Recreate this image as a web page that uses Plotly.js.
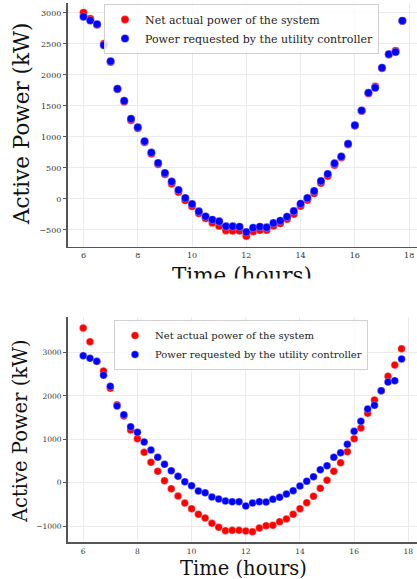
<!DOCTYPE html>
<html>
<head>
<meta charset="utf-8">
<script src="https://cdn.plot.ly/plotly-3.0.1.min.js"></script>
<style>html,body{margin:0;padding:0;background:#fff;}#chart{width:417px;height:579px;}</style>
</head>
<body>
<div id="chart"></div>
<script>
const timeHours = [6,6.25,6.5,6.75,7,7.25,7.5,7.75,8,8.25,8.5,8.75,9,9.25,9.5,9.75,10,10.25,10.5,10.75,11,11.25,11.5,11.75,12,12.25,12.5,12.75,13,13.25,13.5,13.75,14,14.25,14.5,14.75,15,15.25,15.5,15.75,16,16.25,16.5,16.75,17,17.25,17.5,17.75];

const topNet = [3005,2908,2810,2504,2210,1770,1570,1270,1140,915,728,560,398,247,113,-22,-118,-232,-313,-383,-436,-507,-512,-512,-598,-523,-501,-501,-431,-393,-324,-243,-113,-16,91,258,371,549,670,880,1180,1420,1700,1814,2110,2330,2391,2870];
const topReq = [2940,2880,2820,2481,2223,1777,1583,1292,1157,931,748,581,420,280,145,16,-81,-200,-281,-334,-361,-442,-442,-447,-533,-464,-447,-458,-388,-350,-286,-194,-76,16,129,290,404,575,684,889,1189,1427,1712,1793,2116,2336,2369,2876];

const botNet = [3565,3249,2790,2574,2175,1797,1537,1214,1014,700,470,263,46,-138,-306,-468,-599,-728,-812,-936,-1028,-1105,-1098,-1098,-1113,-1129,-1044,-990,-982,-898,-836,-728,-599,-460,-314,-130,55,263,461,714,1014,1260,1599,1906,2120,2452,2712,3088];
const botReq = [2926,2866,2797,2475,2221,1767,1567,1290,1161,938,753,585,424,277,147,23,-69,-191,-233,-329,-376,-422,-437,-437,-537,-468,-437,-445,-383,-337,-260,-184,-76,32,138,300,392,585,691,885,1184,1415,1698,1783,2120,2320,2350,2850];

const netLabel = "Net actual power of the system";
const reqLabel = "Power requested by the utility controller";
const xTitle = "Time (hours)";
const yTitle = "Active Power (kW)";

const FONT = "DejaVu Serif";
const RED = "#ff0000", BLUE = "#0000ff";

function mk(color, size){ return {color: color, size: size, line: {color: "rgba(255,255,255,0.6)", width: 0.5}}; }

const traces = [
  {x: timeHours, y: topNet, type: "scatter", mode: "markers", name: netLabel, marker: mk(RED, 8), xaxis: "x", yaxis: "y", legend: "legend"},
  {x: timeHours, y: topReq, type: "scatter", mode: "markers", name: reqLabel, marker: mk(BLUE, 8), xaxis: "x", yaxis: "y", legend: "legend"},
  {x: timeHours, y: botNet, type: "scatter", mode: "markers", name: netLabel, marker: mk(RED, 7.5), xaxis: "x2", yaxis: "y2", legend: "legend2"},
  {x: timeHours, y: botReq, type: "scatter", mode: "markers", name: reqLabel, marker: mk(BLUE, 7.5), xaxis: "x2", yaxis: "y2", legend: "legend2"}
];

const W = 417, H = 579;
const py = v => 1 - v / H;

function xax(range, anchor, fs, so){
  return {domain: [67.5 / W, 1], range: range, anchor: anchor, tickvals: [6,8,10,12,14,16,18],
    showgrid: true, gridcolor: "#ebebeb", gridwidth: 1, zeroline: false,
    showline: true, linecolor: "#555", linewidth: 1.5, ticks: "", ticklabelstandoff: so,
    tickfont: {family: FONT, size: fs, color: "#333"}};
}
function yax(dom, range, anchor, tv, fs){
  return {domain: dom, range: range, anchor: anchor, tickvals: tv,
    showgrid: true, gridcolor: "#ebebeb", gridwidth: 1, zeroline: false,
    showline: true, linecolor: "#555", linewidth: 1.5, ticks: "outside", ticklen: 3, tickcolor: "#555",
    tickfont: {family: FONT, size: fs, color: "#333"}};
}

const layout = {
  width: W, height: H, margin: {l: 0, r: 0, t: 0, b: 0},
  paper_bgcolor: "#fff", plot_bgcolor: "#fff", showlegend: true,
  xaxis: xax([5.41, 18.29], "y", 8, 0),
  yaxis: yax([py(246.7), py(3)], [-770, 3161], "x", [-500,0,500,1000,1500,2000,2500,3000], 8),
  xaxis2: xax([5.42, 18.32], "y2", 7.5, 1),
  yaxis2: yax([py(542.3), py(317.3)], [-1373, 3811], "x2", [-1000,0,1000,2000,3000], 7.5),
  legend: {x: 104 / W, y: py(4), xanchor: "left", yanchor: "top", bgcolor: "rgba(255,255,255,0.85)",
    bordercolor: "#d0d0d0", borderwidth: 1, font: {family: FONT, size: 11, color: "#222"}},
  legend2: {x: 114 / W, y: py(320), xanchor: "left", yanchor: "top", bgcolor: "rgba(255,255,255,0.85)",
    bordercolor: "#d0d0d0", borderwidth: 1, font: {family: FONT, size: 10, color: "#222"}},
  annotations: [
    {text: yTitle, xref: "paper", yref: "paper", x: 22 / W, y: py(124), xanchor: "center", yanchor: "middle",
     textangle: -90, showarrow: false, font: {family: FONT, size: 21.5, color: "#111"}},
    {text: xTitle, xref: "paper", yref: "paper", x: 242 / W, y: py(275), xanchor: "center", yanchor: "middle",
     showarrow: false, font: {family: FONT, size: 21.5, color: "#111"}},
    {text: " ", xref: "paper", yref: "paper", x: 0.5, y: py(297), xanchor: "center", yanchor: "middle",
     width: W + 10, height: 34, bgcolor: "#ffffff", showarrow: false, font: {size: 10}},
    {text: yTitle, xref: "paper", yref: "paper", x: 20 / W, y: py(431), xanchor: "center", yanchor: "middle",
     textangle: -90, showarrow: false, font: {family: FONT, size: 19.5, color: "#111"}},
    {text: xTitle, xref: "paper", yref: "paper", x: 243 / W, y: py(568.5), xanchor: "center", yanchor: "middle",
     showarrow: false, font: {family: FONT, size: 19.5, color: "#111"}}
  ]
};

Plotly.newPlot("chart", traces, layout, {displayModeBar: false, staticPlot: true});
</script>
</body>
</html>
